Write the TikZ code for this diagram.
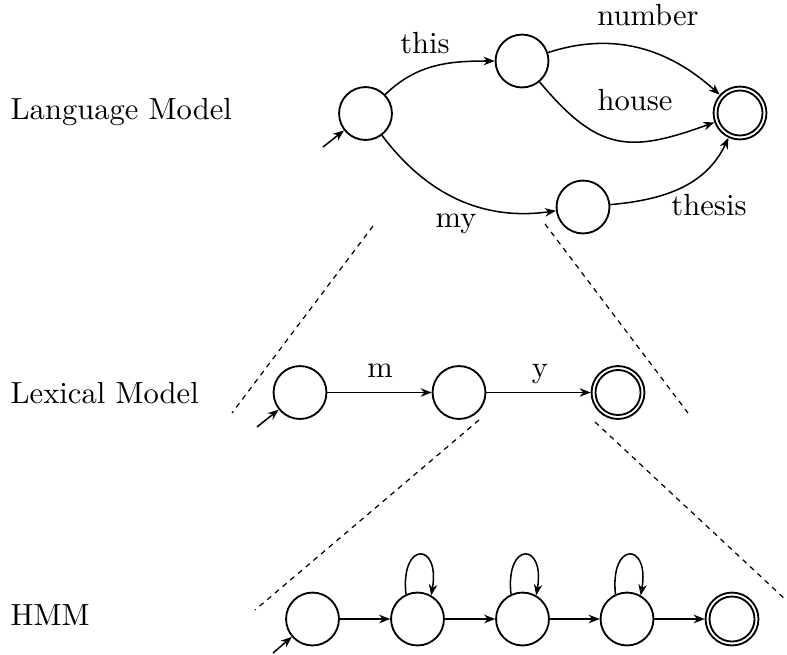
\documentclass[tikz,border=0pt]{standalone}
\usetikzlibrary{arrows.meta}
\begin{document}
\begin{tikzpicture}[x=0.327pt,y=0.327pt,
  state/.style={circle,draw,line width=0.6pt,inner sep=0pt,minimum size=17.3pt},
  final/.style={state,path picture={\draw[line width=0.6pt]
      (path picture bounding box.center) circle[radius=7.36pt];}},
  conn/.style={line width=0.5pt,-{Stealth[length=3.6pt,width=2.8pt]}},
  guide/.style={line width=0.4pt,dash pattern=on 1.7pt off 1.6pt},
  lbl/.style={inner sep=0pt,anchor=base},
  tier/.style={inner sep=0pt,anchor=base west}]
\useasboundingbox (0,0) rectangle (787,654);

% row titles
\node[tier] (tlm)  at (10,535) {Language Model};
\node[tier] (tlex) at (10,251) {Lexical Model};
\node[tier] (thmm) at (10,29)  {HMM};

% language model
\node[state] (s0) at (365.5,540.5) {};
\node[state] (s1) at (522,593) {};
\node[state] (s2) at (583,447) {};
\node[final] (s3) at (740,541) {};
\coordinate (t0) at (323,507);
\draw[conn] (t0) -- (s0);
\draw[conn] (s0) to[out=44,in=180] (s1);
\draw[conn] (s0) to[out=-53,in=188] (s2);
\draw[conn] (s1) to[out=18,in=138] (s3);
\draw[conn] (s1) to[out=-50,in=200,looseness=1.3] (s3);
\draw[conn] (s2) to[out=5,in=245] (s3);
\node[lbl] (wthis)   at (425,601) {this};
\node[lbl] (wnumber) at (648,629) {number};
\node[lbl] (whouse)  at (635,544) {house};
\node[lbl] (wmy)     at (456,427) {my};
\node[lbl] (wthesis) at (709,439) {thesis};

% lexical model
\node[state] (l0) at (300,261.5) {};
\node[state] (l1) at (459,261.5) {};
\node[final] (l2) at (618,261.5) {};
\coordinate (t1) at (257,227);
\draw[conn] (t1) -- (l0);
\draw[conn] (l0) -- (l1);
\draw[conn] (l1) -- (l2);
\node[lbl] (wm) at (380,277) {m};
\node[lbl] (wy) at (540,277) {y};

% HMM
\node[state] (h0) at (312.5,35) {};
\node[state] (h1) at (417.5,35) {};
\node[state] (h2) at (522.5,35) {};
\node[state] (h3) at (627,35) {};
\node[final] (h4) at (732,35) {};
\coordinate (t2) at (273,1);
\draw[conn] (t2) -- (h0);
\draw[conn] (h0) -- (h1);
\draw[conn] (h1) -- (h2);
\draw[conn] (h2) -- (h3);
\draw[conn] (h3) -- (h4);
\foreach \n in {h1,h2,h3}
  \draw[conn] (\n.115) .. controls +(96:54) and +(80:54) .. (\n.60);

% expansion guides
\coordinate (ga) at (373,428);
\coordinate (gb) at (232,241);
\coordinate (gc) at (545,430);
\coordinate (gd) at (688,241);
\coordinate (ge) at (479,234);
\coordinate (gf) at (255,44);
\coordinate (gg) at (595,232);
\coordinate (gh) at (786,54);
\draw[guide] (ga) -- (gb);
\draw[guide] (gc) -- (gd);
\draw[guide] (ge) -- (gf);
\draw[guide] (gg) -- (gh);
\end{tikzpicture}
\end{document}
